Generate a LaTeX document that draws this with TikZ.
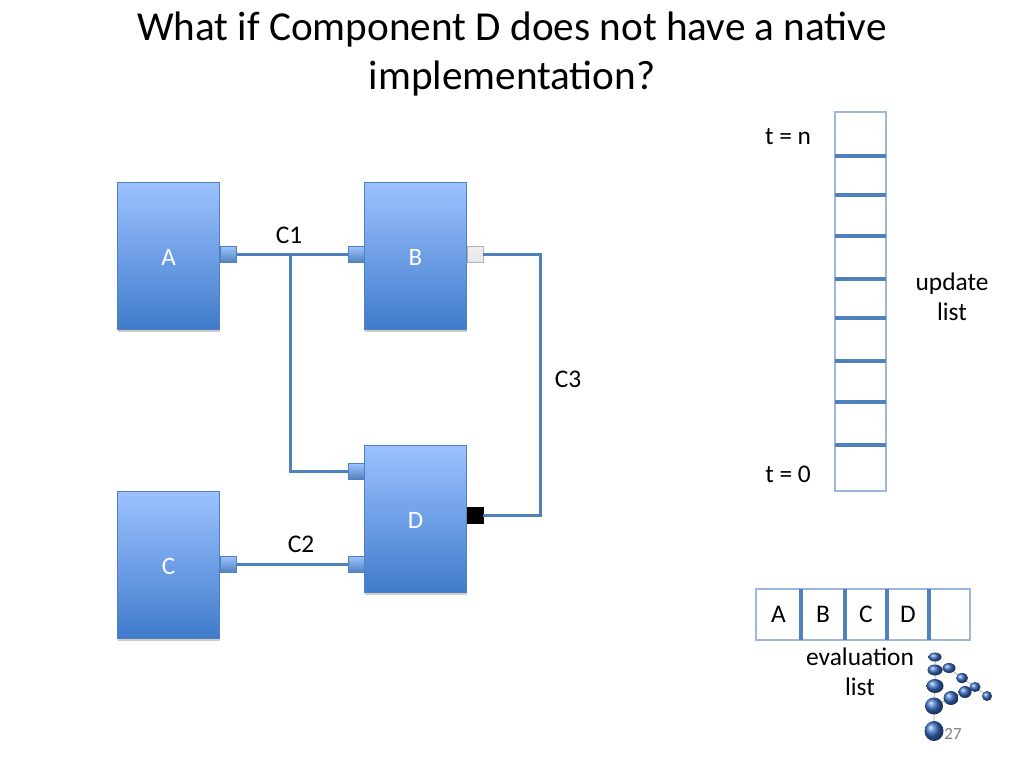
\documentclass[tikz,border=0pt]{standalone}
\usepackage{fontspec}
\setmainfont{Carlito}
\usetikzlibrary{shadows,shapes.geometric}
\definecolor{wireblue}{HTML}{4F81BD}
\definecolor{cellblue}{HTML}{9DB8DC}
\definecolor{blocktop}{HTML}{9CC2FF}
\definecolor{blockmid}{HTML}{6F9FE6}
\definecolor{blockbot}{HTML}{3F7CCB}
\definecolor{ballblue}{HTML}{3A6EC4}
\tikzset{
	block/.style={draw=wireblue,line width=0.7pt,inner sep=0,outer sep=0,minimum width=102.5,minimum height=147,
		top color=blocktop,bottom color=blockbot,middle color=blockmid,text=white,font=\fontsize{25}{30}\selectfont,
		drop shadow={shadow xshift=0.5pt,shadow yshift=-2.5pt,opacity=0.4}},
	port/.style={draw=wireblue,line width=0.7pt,inner sep=0,outer sep=0,minimum width=16,minimum height=16,
		top color=blocktop,bottom color=wireblue},
	wire/.style={draw=wireblue,line width=3pt},
	cell/.style={draw=cellblue,line width=1.6pt,fill=white,inner sep=0,outer sep=0,font=\fontsize{25.4}{30}\selectfont},
	divider/.style={draw=wireblue,line width=3.2pt},
	lab/.style={inner sep=0,align=center,font=\fontsize{25.4}{30}\selectfont},
	ball/.style={ellipse,inner sep=0,outer sep=0,ball color=ballblue},
	twig/.style={draw=black!25,line width=1pt}
}
\begin{document}
\begin{tikzpicture}[x=1pt,y=-1pt]
	\useasboundingbox (0,0) rectangle (1024,768);
	\node[lab,font=\fontsize{41.2}{49}\selectfont] (title) at (512,54) {What if Component D does not have a native\\implementation?};

	% blocks
	\node[block] (A) at (168.5,255.5) {\raisebox{-1.5pt}[\height][0pt]{A}};
	\node[block] (B) at (415.5,255.5) {\raisebox{-1.5pt}[\height][0pt]{B}};
	\node[block] (C) at (168.5,564.5) {\raisebox{-1.5pt}[\height][0pt]{C}};
	\node[block] (D) at (415.5,518.5) {\raisebox{-1.5pt}[\height][0pt]{D}};

	% ports
	\node[port] (pA) at (228.5,254.5) {};
	\node[port] (pB1) at (356,254.5) {};
	\node[port,top color=black!6,bottom color=black!10,draw=black!30] (pB2) at (475,254.5) {};
	\node[port] (pC) at (228,564.5) {};
	\node[port] (pD1) at (356,471.5) {};
	\node[port] (pD2) at (356,564.5) {};
	\node[port,top color=black,bottom color=black,draw=black] (pD3) at (475,515) {};

	% wires
	\coordinate (j1) at (290,254.5);
	\coordinate (k3) at (540.5,380);
	\draw[wire] (pA) -- (pB1);
	\draw[wire] (j1) |- (pD1);
	\draw[wire] (pC) -- (pD2);
	\draw[wire] (pB2) -| (k3) |- (pD3);

	\node[lab] (c1) at (289,235) {C1};
	\node[lab] (c2) at (301,544) {C2};
	\node[lab] (c3) at (568,379.5) {C3};

	% update list
	\node[cell,minimum width=51,minimum height=44] (u1) at (860.5,134) {};
	\node[cell,minimum width=51,minimum height=39] (u2) at (860.5,175.5) {};
	\node[cell,minimum width=51,minimum height=41] (u3) at (860.5,215.5) {};
	\node[cell,minimum width=51,minimum height=43] (u4) at (860.5,257.5) {};
	\node[cell,minimum width=51,minimum height=39] (u5) at (860.5,298.5) {};
	\node[cell,minimum width=51,minimum height=43] (u6) at (860.5,339.5) {};
	\node[cell,minimum width=51,minimum height=41] (u7) at (860.5,381.5) {};
	\node[cell,minimum width=51,minimum height=43] (u8) at (860.5,423.5) {};
	\node[cell,minimum width=51,minimum height=46] (u9) at (860.5,468) {};
	\draw[divider] (u1.south west) -- (u1.south east);
	\draw[divider] (u2.south west) -- (u2.south east);
	\draw[divider] (u3.south west) -- (u3.south east);
	\draw[divider] (u4.south west) -- (u4.south east);
	\draw[divider] (u5.south west) -- (u5.south east);
	\draw[divider] (u6.south west) -- (u6.south east);
	\draw[divider] (u7.south west) -- (u7.south east);
	\draw[divider] (u8.south west) -- (u8.south east);
	\node[lab] (tn) at (788,136.5) {t = n};
	\node[lab] (t0) at (788,474.5) {t = 0};
	\node[lab] (ulist) at (952,297) {update\\list};

	% evaluation list
	\node[cell,minimum width=45,minimum height=51] (e1) at (778.5,614.5) {A};
	\node[cell,minimum width=44,minimum height=51] (e2) at (823,614.5) {B};
	\node[cell,minimum width=42,minimum height=51] (e3) at (866,614.5) {C};
	\node[cell,minimum width=42,minimum height=51] (e4) at (908,614.5) {D};
	\node[cell,minimum width=41,minimum height=51] (e5) at (949.5,614.5) {};
	\draw[divider] (e1.north east) -- (e1.south east);
	\draw[divider] (e2.north east) -- (e2.south east);
	\draw[divider] (e3.north east) -- (e3.south east);
	\draw[divider] (e4.north east) -- (e4.south east);
	\node[lab] (elist) at (860,671.5) {evaluation\\list};

	% logo
	\coordinate (b1) at (935,657);
	\coordinate (b2) at (935,670);
	\coordinate (b3) at (935,686);
	\coordinate (b4) at (934,706);
	\coordinate (b5) at (934,731);
	\coordinate (b6) at (949,668);
	\coordinate (b7) at (962,678);
	\coordinate (b8) at (975,687);
	\coordinate (b9) at (987,696);
	\coordinate (b10) at (965,692);
	\coordinate (b11) at (951,698);
	\draw[twig] (b1) -- (b2) -- (b3) -- (b4) -- (b5);
	\draw[twig] (b2) -- (b6) -- (b7) -- (b8) -- (b9);
	\draw[twig] (b4) -- (b11) -- (b10) -- (b8);
	\node[ball,minimum width=13,minimum height=9] at (b1) {};
	\node[ball,minimum width=15,minimum height=11] at (b2) {};
	\node[ball,minimum width=17,minimum height=14] at (b3) {};
	\node[ball,minimum width=18,minimum height=17] at (b4) {};
	\node[ball,minimum width=19,minimum height=20] at (b5) {};
	\node[ball,minimum width=13,minimum height=10] at (b6) {};
	\node[ball,minimum width=12,minimum height=10] at (b7) {};
	\node[ball,minimum width=11,minimum height=10] at (b8) {};
	\node[ball,minimum width=10,minimum height=10] at (b9) {};
	\node[ball,minimum width=13,minimum height=12] at (b10) {};
	\node[ball,minimum width=15,minimum height=14] at (b11) {};
	\node[lab,text=black!50,font=\fontsize{17}{20}\selectfont] (page) at (953,733.5) {27};
\end{tikzpicture}
\end{document}
